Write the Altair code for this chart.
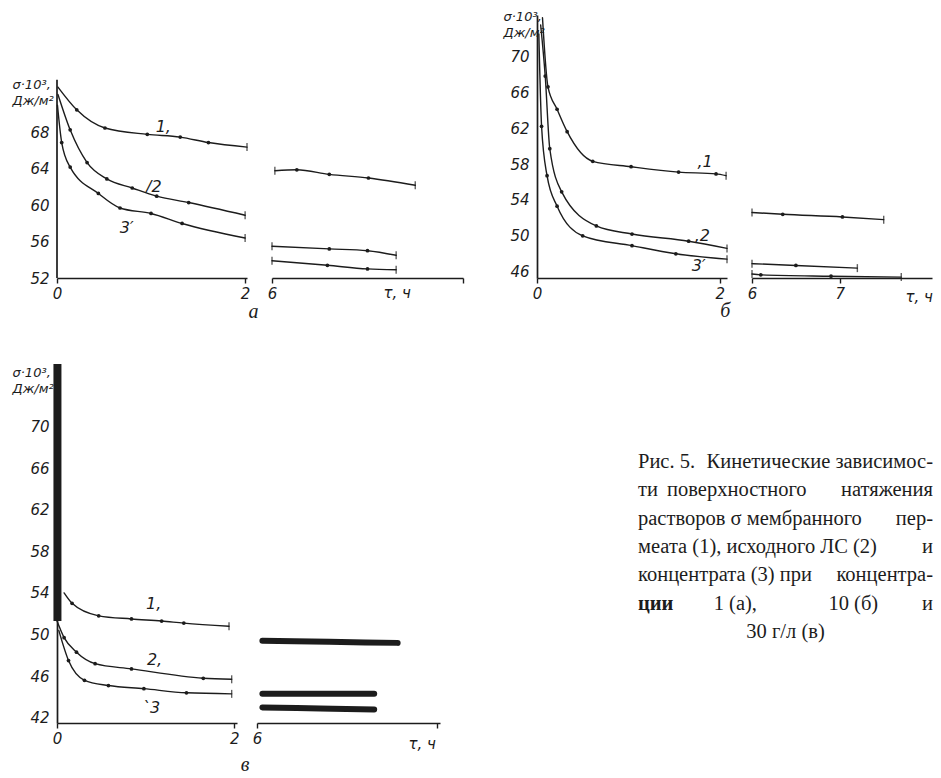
import altair as alt
import pandas as pd

INK = "#1c1c1c"
HF = "DejaVu Sans"
SF = "Liberation Serif"

# ---------------- panel а (1 g/l) ----------------
a_t1 = [0.01, 0.21, 0.51, 0.96, 1.31, 1.61, 2.02]
a_s1 = [73.0, 70.5, 68.5, 67.8, 67.5, 66.9, 66.4]
a_t2 = [0.01, 0.14, 0.32, 0.53, 0.80, 1.06, 1.40, 2.00]
a_s2 = [72.2, 68.3, 64.7, 62.9, 61.9, 61.0, 60.3, 58.9]
a_t3 = [0.005, 0.05, 0.14, 0.44, 0.67, 1.00, 1.33, 2.00]
a_s3 = [71.0, 66.9, 64.2, 61.3, 59.7, 59.1, 58.0, 56.4]
a_rt1 = [6.03, 6.26, 6.60, 7.01, 7.50]
a_rs1 = [63.8, 63.9, 63.4, 63.0, 62.2]
a_rt2 = [6.0, 6.6, 7.0, 7.3]
a_rs2 = [55.5, 55.2, 55.0, 54.5]
a_rt3 = [6.0, 6.58, 7.0, 7.3]
a_rs3 = [53.9, 53.4, 53.0, 52.9]
a_yticks = [52, 56, 60, 64, 68]

# ---------------- panel б (10 g/l) ----------------
b_t1 = [0.06, 0.12, 0.22, 0.33, 0.61, 1.03, 1.55, 1.96, 2.07]
b_s1 = [74.3, 66.6, 64.1, 61.6, 58.3, 57.7, 57.1, 56.9, 56.7]
b_t2 = [0.04, 0.09, 0.14, 0.27, 0.65, 1.04, 1.66, 2.08]
b_s2 = [73.5, 67.8, 59.7, 54.9, 51.1, 50.2, 49.4, 48.6]
b_t3 = [0.02, 0.05, 0.11, 0.22, 0.50, 1.04, 1.52, 2.08]
b_s3 = [72.5, 62.2, 56.7, 53.3, 50.0, 48.9, 48.0, 47.4]
b_rt1 = [6.0, 6.35, 7.03, 7.5]
b_rs1 = [52.6, 52.4, 52.1, 51.8]
b_rt2 = [6.0, 6.5, 7.2]
b_rs2 = [46.9, 46.7, 46.4]
b_rt3 = [6.0, 6.1, 6.9, 7.7]
b_rs3 = [45.75, 45.65, 45.5, 45.4]
b_yticks = [46, 50, 54, 58, 62, 66, 70]

# ---------------- panel в (30 g/l) ----------------
v_t1 = [0.08, 0.17, 0.47, 0.84, 1.18, 1.43, 1.94]
v_s1 = [54.0, 53.0, 51.8, 51.5, 51.3, 51.1, 50.8]
v_t2 = [0.0, 0.08, 0.22, 0.43, 0.84, 1.65, 1.97]
v_s2 = [51.3, 49.7, 48.3, 47.2, 46.7, 45.8, 45.7]
v_t3 = [0.02, 0.13, 0.31, 0.58, 0.98, 1.46, 1.97]
v_s3 = [50.4, 47.5, 45.6, 45.1, 44.8, 44.4, 44.3]
v_rt1 = [6.06, 6.8, 7.56]
v_rs1 = [49.4, 49.3, 49.2]
v_rt2 = [6.06, 6.7, 7.3]
v_rs2 = [44.3, 44.3, 44.3]
v_rt3 = [6.06, 6.7, 7.3]
v_rs3 = [43.0, 42.9, 42.8]
v_yticks = [42, 46, 50, 54, 58, 62, 66, 70]

Y_TITLE = ["σ·10³,", "Дж/м²"]
X_TITLE = "τ, ч"

caption_rows = [
    (0, 0.0, "left", "Рис. 5."),
    (0, 1.0, "right", "Кинетические зависимос-"),
    (1, 0.0, "left", "ти"),
    (1, 0.335, "center", "поверхностного"),
    (1, 1.0, "right", "натяжения"),
    (2, 0.0, "left", "растворов σ мембранного"),
    (2, 1.0, "right", "пер-"),
    (3, 0.0, "left", "меата (1), исходного ЛС (2)"),
    (3, 1.0, "right", "и"),
    (4, 0.0, "left", "концентрата (3) при"),
    (4, 1.0, "right", "концентра-"),
    (5, 0.0, "bold", "ции"),
    (5, 0.33, "center", "1 (а),"),
    (5, 0.73, "center", "10 (б)"),
    (5, 1.0, "right", "и"),
    (6, 0.5, "center", "30 г/л (в)"),
]


def curves_df(ts, ss, names):
    rows = []
    for t, s, n in zip(ts, ss, names):
        last = len(t) - 1
        for i, (x, y) in enumerate(zip(t, s)):
            rows.append({"curve": n, "t": x, "s": y, "idx": i, "last": last})
    return pd.DataFrame(rows)


def x_axis(values, title=None, tx=0, ty=0, hide=None):
    kw = dict(values=values, grid=False, domainColor=INK, domainWidth=1.7,
              tickColor=INK, tickWidth=1.4, tickSize=5, labelFont=HF,
              labelFontStyle="italic", labelFontSize=15, labelColor=INK,
              labelPadding=3, labelFlush=False, format="d")
    if hide is not None:
        kw["labelExpr"] = "datum.value == %s ? '' : datum.label" % hide
    if title is None:
        return alt.Axis(title=None, **kw)
    return alt.Axis(title=title, titleX=tx, titleY=ty, titleAlign="left",
                    titleBaseline="middle", titleFont=HF, titleFontStyle="italic",
                    titleFontWeight="normal", titleFontSize=15, titleColor=INK, **kw)


def y_axis(values, tx, ty, domain=True):
    return alt.Axis(values=values, grid=False, ticks=False, domain=domain,
                    domainColor=INK, domainWidth=1.7, labelFont=HF,
                    labelFontStyle="italic", labelFontSize=15, labelColor=INK,
                    labelPadding=8, labelFlush=False, format="d",
                    title=Y_TITLE, titleAngle=0, titleAlign="left",
                    titleBaseline="top", titleX=tx, titleY=ty, titleFont=HF,
                    titleFontStyle="italic", titleFontWeight="normal",
                    titleFontSize=13, titleLineHeight=16, titleColor=INK)


def segment(df, xdom, ydom, w, h, xaxis, yaxis, caps="end", stroke=1.4,
            dots=True, labels=None, letter=None, extra_lines=None):
    X = alt.X("t:Q", scale=alt.Scale(domain=xdom, nice=False, zero=False), axis=xaxis)
    Y = alt.Y("s:Q", scale=alt.Scale(domain=ydom, nice=False, zero=False), axis=yaxis)
    base = alt.Chart(df)
    layers = [base.mark_line(interpolate="monotone", color=INK, strokeWidth=stroke,
                             strokeCap="round").encode(x=X, y=Y, detail="curve:N")]
    if dots:
        layers.append(base.transform_filter("datum.idx > 0 && datum.idx < datum.last")
                      .mark_circle(size=14, color=INK, opacity=1).encode(x=X, y=Y))
    if caps:
        f = "datum.idx == datum.last" if caps == "end" else "datum.idx == 0 || datum.idx == datum.last"
        layers.append(base.transform_filter(f).mark_tick(orient="vertical", size=8, thickness=1.4,
                                                       color=INK).encode(x=X, y=Y))
    if extra_lines is not None:
        for d, sw in extra_lines:
            layers.append(alt.Chart(d).mark_line(color=INK, strokeWidth=sw)
                          .encode(x=X, y=Y, detail="curve:N"))
    if labels is not None:
        layers.append(alt.Chart(labels).mark_text(font=HF, fontStyle="italic", fontSize=16,
                                                  color=INK, align="center", baseline="middle")
                      .encode(x=X, y=Y, text="txt:N"))
    if letter is not None:
        layers.append(alt.Chart(letter).mark_text(font=SF, fontStyle="italic", fontSize=20,
                                                  color=INK, align="center", baseline="middle")
                      .encode(x=X, y=Y, text="txt:N"))
    return alt.layer(*layers).properties(width=w, height=h)


def spacer(w, h):
    return (alt.Chart(pd.DataFrame({"t": [0]})).mark_point(opacity=0)
            .encode(x=alt.value(0), y=alt.value(0))
            .properties(width=w, height=h))


# ---- panel а ----
A_DOM = [52, 80.93]
a_left = segment(
    curves_df([a_t1, a_t2, a_t3], [a_s1, a_s2, a_s3], ["1", "2", "3"]),
    [0, 2.02], A_DOM, 190, 263, x_axis([0, 1, 2]), y_axis(a_yticks, -45, 63, domain=False),
    labels=pd.DataFrame({"t": [1.13, 1.03, 0.74], "s": [68.6, 62.0, 57.5], "txt": ["1,", "/2", "3′"]}),
    letter=pd.DataFrame({"t": [2.09], "s": [48.3], "txt": ["а"]}),
    extra_lines=[(pd.DataFrame({"curve": ["ax", "ax"], "t": [0, 0], "s": [52, 73.8]}), 1.7)],
)
a_right = segment(
    curves_df([a_rt1, a_rt2, a_rt3], [a_rs1, a_rs2, a_rs3], ["1", "2", "3"]),
    [6, 8.0], A_DOM, 191, 263, x_axis([6, 7, 8], X_TITLE, 111, 14, hide=8), None, caps="both",
)

# ---- panel б ----
B_DOM = [45.3, 74.6]
b_left = segment(
    curves_df([b_t1, b_t2, b_t3], [b_s1, b_s2, b_s3], ["1", "2", "3"]),
    [0, 2.08], B_DOM, 190, 263, x_axis([0, 1, 2]), y_axis(b_yticks, -34, -5),
    labels=pd.DataFrame({"t": [1.84, 1.81, 1.77], "s": [58.2, 50.0, 46.6], "txt": [",1", ",2", "3′"]}),
    letter=pd.DataFrame({"t": [2.06], "s": [41.6], "txt": ["б"]}),
)
b_right = segment(
    curves_df([b_rt1, b_rt2, b_rt3], [b_rs1, b_rs2, b_rs3], ["1", "2", "3"]),
    [6, 8.05], B_DOM, 180, 263, x_axis([6, 7], X_TITLE, 153, 18), None, caps="both",
)

# ---- panel в ----
V_DOM = [41.5, 76.0]
v_left = segment(
    curves_df([v_t1, v_t2, v_t3], [v_s1, v_s2, v_s3], ["1", "2", "3"]),
    [0, 2.03], V_DOM, 180, 359, x_axis([0, 1, 2]), y_axis(v_yticks, -45, 2),
    labels=pd.DataFrame({"t": [1.09, 1.10, 1.06], "s": [52.9, 47.6, 42.9], "txt": ["1,", "2,", "ˋ3"]}),
    letter=pd.DataFrame({"t": [2.12], "s": [37.5], "txt": ["в"]}),
    extra_lines=[(pd.DataFrame({"curve": ["bar", "bar"], "t": [0.005, 0.005], "s": [51.3, 76.0]}), 8)],
)
v_right = segment(
    curves_df([v_rt1, v_rt2, v_rt3], [v_rs1, v_rs2, v_rs3], ["1", "2", "3"]),
    [6, 8.03], V_DOM, 183, 359, x_axis([6, 7, 8], X_TITLE, 151, 20, hide=8), None,
    caps=None, stroke=6, dots=False,
)

# ---- caption ----
cap = pd.DataFrame(caption_rows, columns=["line", "pos", "kind", "txt"])
CX = alt.X("pos:Q", scale=alt.Scale(domain=[0, 1], nice=False, zero=False), axis=None)
CY = alt.Y("line:Q", scale=alt.Scale(domain=[-3.463, 9.22], nice=False, zero=False, reverse=True), axis=None)
cap_layers = []
for kind, align, weight in [("left", "left", "normal"), ("center", "center", "normal"),
                            ("right", "right", "normal"), ("bold", "left", "bold")]:
    cap_layers.append(
        alt.Chart(cap).transform_filter("datum.kind == '%s'" % kind)
        .mark_text(font=SF, fontSize=20.5, fontWeight=weight, color=INK, align=align, baseline="middle")
        .encode(x=CX, y=CY, text="txt:N")
    )
caption = alt.layer(*cap_layers).properties(width=295, height=359)

row1 = alt.hconcat(a_left, spacer(25, 263), a_right, spacer(74, 263), b_left, spacer(25, 263), b_right,
                   spacing=0, bounds="flush")
row2 = alt.hconcat(v_left, spacer(20, 359), v_right, spacer(198, 359), caption,
                   spacing=0, bounds="flush")

chart = (
    alt.vconcat(row1, row2, spacing=26)
    .properties(padding={"left": 4, "top": 2, "right": 0, "bottom": 0}, background="white")
    .configure_view(strokeWidth=0)
)

chart.save("out.html", embed_options={"renderer": "svg", "actions": False})
